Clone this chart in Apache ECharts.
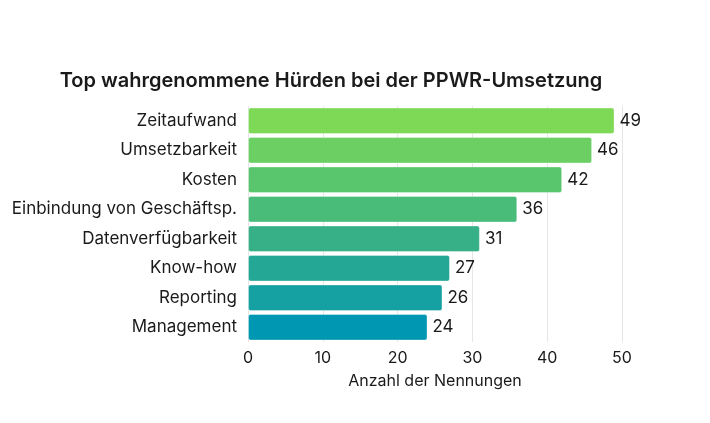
<!DOCTYPE html>
<html><head><meta charset="utf-8">
<script src="https://cdn.jsdelivr.net/npm/echarts@6/dist/echarts.min.js"></script>
<style>html,body{margin:0;padding:0;background:#fff}#c{width:710px;height:423px}</style>
</head><body><div id="c"></div>
<script>
const categories = ["Zeitaufwand","Umsetzbarkeit","Kosten","Einbindung von Geschäftsp.","Datenverfügbarkeit","Know-how","Reporting","Management"];
const values = [49,46,42,36,31,27,26,24];
const colors = ["#7ed957","#6bcf63","#59c66e","#49bc7a","#37b087","#24a794","#15a0a1","#0097b2"];
const xTicks = [0,10,20,30,40,50];

const chart = echarts.init(document.getElementById('c'));
chart.setOption({
  backgroundColor:'#fff',
  title:{text:'Top wahrgenommene Hürden bei der PPWR-Umsetzung',left:326,textAlign:'center',top:66,
    textStyle:{fontFamily:'Inter',fontWeight:600,fontSize:20,color:'#1a1a1a'}},
  grid:{left:248,right:88,top:106,bottom:81,containLabel:false},
  xAxis:{type:'value',min:0,max:50,interval:10,
    name:'Anzahl der Nennungen',nameLocation:'middle',nameGap:31,
    nameTextStyle:{fontFamily:'Inter',fontSize:16,color:'#1a1a1a'},
    axisLabel:{fontFamily:'Inter',fontSize:16,color:'#1a1a1a',margin:8,formatter:v=>xTicks.includes(v)?String(v):''},
    axisLine:{show:false},axisTick:{show:false},
    splitLine:{lineStyle:{color:'#e6e6e6'}}},
  yAxis:{type:'category',data:categories,inverse:true,
    axisLabel:{fontFamily:'Inter',fontSize:17,color:'#1a1a1a',margin:11},
    axisLine:{show:false},axisTick:{show:false}},
  series:[{type:'bar',barCategoryGap:'10%',
    data:values.map((v,i)=>({value:v,itemStyle:{color:colors[i]}})),
    itemStyle:{borderRadius:2,borderColor:'rgba(255,255,255,0.35)',borderWidth:1},
    label:{show:true,position:'right',fontFamily:'Inter',fontSize:17,color:'#1a1a1a',distance:5}}]
});
</script></body></html>
